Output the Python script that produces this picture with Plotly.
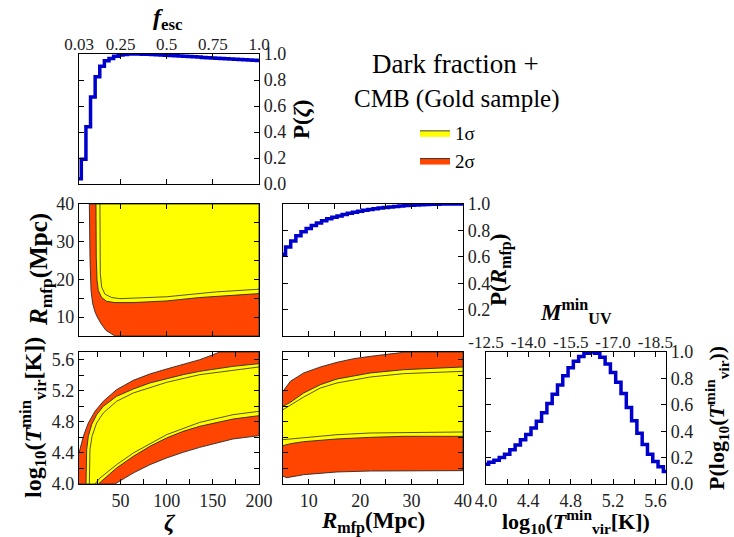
import plotly.graph_objects as go

# ---------------- 1D marginals ----------------
zeta_bins = [5, 10, 15, 20, 25, 30, 35, 40, 45, 50, 55, 60, 65, 70, 75, 80, 85, 90, 95, 100,
             105, 110, 115, 120, 125, 130, 135, 140, 145, 150, 155, 160, 165, 170, 175, 180,
             185, 190, 195, 200]
p_zeta = [0.04, 0.19, 0.44, 0.67, 0.825, 0.905, 0.948, 0.966, 0.982, 0.992, 0.997, 1.0, 1.0,
          1.0, 0.999, 0.998, 0.996, 0.994, 0.992, 0.99, 0.988, 0.986, 0.984, 0.982, 0.98,
          0.978, 0.976, 0.974, 0.972, 0.97, 0.968, 0.966, 0.964, 0.962, 0.96, 0.958, 0.956,
          0.954, 0.952, 0.95]

r_bins = [5, 6, 7, 8, 9, 10, 11, 12, 13, 14, 15, 16, 17, 18, 19, 20, 21, 22, 23, 24, 25, 26,
          27, 28, 29, 30, 31, 32, 33, 34, 35, 36, 37, 38, 39, 40]
p_r = [0.62, 0.675, 0.72, 0.76, 0.79, 0.815, 0.838, 0.857, 0.873, 0.888, 0.90, 0.91, 0.92,
       0.93, 0.938, 0.946, 0.952, 0.958, 0.964, 0.969, 0.974, 0.978, 0.982, 0.985, 0.988,
       0.991, 0.993, 0.995, 0.997, 0.998, 0.999, 1.0, 1.0, 1.0, 1.0, 1.0]

t_bins = [4.00, 4.05, 4.10, 4.15, 4.20, 4.25, 4.30, 4.35, 4.40, 4.45, 4.50, 4.55, 4.60, 4.65,
          4.70, 4.75, 4.80, 4.85, 4.90, 4.95, 5.00, 5.05, 5.10, 5.15, 5.20, 5.25, 5.30, 5.35,
          5.40, 5.45, 5.50, 5.55, 5.60, 5.65, 5.70]
p_t = [0.15, 0.165, 0.18, 0.20, 0.225, 0.26, 0.295, 0.335, 0.375, 0.425, 0.475, 0.54, 0.61,
       0.68, 0.75, 0.82, 0.88, 0.93, 0.965, 0.99, 1.0, 0.99, 0.96, 0.91, 0.845, 0.77, 0.685,
       0.58, 0.48, 0.385, 0.30, 0.225, 0.17, 0.13, 0.095]

# ---------------- 2D credible regions (boundaries) ----------------
# zeta - R_mfp
zr2_hi_x = [16.2, 200]
zr2_hi_y = [40, 40]
zr2_lo_x = [16.2, 16.9, 18.0, 19.8, 22.3, 24.8, 28.8, 34.2, 43.9, 200]
zr2_lo_y = [40, 26.0, 17.1, 13.6, 11.4, 10.05, 8.3, 6.5, 5.0, 5.0]
zr1_hi_x = [23.4, 200]
zr1_hi_y = [40, 40]
zr1_lo_x = [23.4, 23.7, 24.5, 25.9, 29.5, 34.9, 43.9, 63.8, 99.8, 135.8, 171.9, 200]
zr1_lo_y = [40, 26.0, 19.8, 17.1, 15.2, 14.2, 13.86, 13.86, 14.3, 15.2, 15.8, 16.25]
zr1_in_x = [27.7, 28.1, 29.5, 33.1, 40.3, 49.3, 99.8, 153.9, 200]
zr1_in_y = [40, 21.6, 18.0, 16.1, 15.2, 14.9, 15.4, 16.7, 17.4]

# zeta - log10(Tvir)
zt2_hi_x = [5, 5.4, 9.7, 15.1, 22.3, 31.3, 45.7, 63.8, 81.8, 99.8, 117.8, 135.8, 150.3, 157.5, 200]
zt2_hi_y = [4.40, 4.421, 4.614, 4.786, 4.936, 5.065, 5.215, 5.335, 5.417, 5.481, 5.545, 5.601,
            5.666, 5.70, 5.70]
zt2_lo_x = [5, 43.9, 63.8, 81.8, 99.8, 117.8, 135.8, 153.9, 171.9, 200]
zt2_lo_y = [4.0, 4.0, 4.142, 4.249, 4.335, 4.408, 4.472, 4.528, 4.580, 4.622]
zt1_hi_x = [12.6, 12.6, 13.3, 15.1, 18.7, 24.1, 31.3, 45.7, 63.8, 81.8, 99.8, 117.8, 135.8,
            153.9, 171.9, 200]
zt1_hi_y = [4.0, 4.142, 4.442, 4.614, 4.764, 4.893, 5.0, 5.129, 5.223, 5.301, 5.357, 5.408,
            5.451, 5.485, 5.515, 5.550]
zt1_lo_x = [12.6, 25.9, 34.9, 45.7, 63.8, 81.8, 99.8, 117.8, 135.8, 153.9, 171.9, 200]
zt1_lo_y = [4.0, 4.0, 4.099, 4.206, 4.356, 4.485, 4.592, 4.678, 4.743, 4.794, 4.837, 4.880]
zt1_inhi_x = [16.2, 16.9, 19.1, 24.1, 31.3, 45.7, 63.8, 99.8, 135.8, 171.9, 200]
zt1_inhi_y = [4.0, 4.442, 4.614, 4.786, 4.914, 5.065, 5.172, 5.309, 5.408, 5.464, 5.507]
zt1_inlo_x = [22.3, 27.7, 45.7, 63.8, 99.8, 135.8, 171.9, 200]
zt1_inlo_y = [4.0, 4.077, 4.249, 4.399, 4.635, 4.794, 4.893, 4.936]

# R_mfp - log10(Tvir)
rt2_hi_x = [5, 6.43, 9.02, 12.26, 15.5, 18.74, 21.98, 25.2, 28.46, 30.4, 40]
rt2_hi_y = [5.193, 5.322, 5.430, 5.507, 5.567, 5.614, 5.644, 5.674, 5.696, 5.70, 5.70]
rt2_lo_x = [5, 5.78, 9.02, 12.26, 15.5, 21.98, 28.46, 40]
rt2_lo_y = [4.099, 4.082, 4.120, 4.142, 4.155, 4.167, 4.172, 4.172]
rt1_hi_x = [5, 6.43, 9.02, 12.26, 15.5, 18.74, 21.98, 28.46, 34.9, 40]
rt1_hi_y = [5.0, 5.052, 5.172, 5.279, 5.352, 5.395, 5.430, 5.472, 5.494, 5.507]
rt1_lo_x = [5, 6.43, 9.02, 15.5, 21.98, 28.46, 40]
rt1_lo_y = [4.494, 4.519, 4.545, 4.580, 4.601, 4.614, 4.614]
rt1_inhi_x = [5, 9.02, 12.26, 15.5, 21.98, 28.46, 40]
rt1_inhi_y = [4.957, 5.120, 5.236, 5.301, 5.378, 5.421, 5.451]
rt1_inlo_x = [5, 6.43, 9.02, 15.5, 21.98, 28.46, 40]
rt1_inlo_y = [4.571, 4.580, 4.601, 4.635, 4.657, 4.665, 4.670]

# tick labels
fesc_vals = [5, 50, 100, 150, 200]
fesc_text = ['0.03', '0.25', '0.5', '0.75', '1.0']
muv_vals = [4.0, 4.4, 4.8, 5.2, 5.6]
muv_text = ['-12.5', '-14.0', '-15.5', '-17.0', '-18.5']

# ---------------- styling ----------------
FONT = 'Liberation Serif'
YELLOW = '#FFFF00'
RED = '#FF4500'
BLUE = '#0000CD'
EDGE = '#2a2a2a'

fig = go.Figure()


def region(xh, yh, xl, yl, color, xa, ya, name=None, show=False, rank=None):
    xs = list(xh) + list(reversed(xl))
    ys = list(yh) + list(reversed(yl))
    fig.add_trace(go.Scatter(x=xs, y=ys, mode='lines', fill='toself', fillcolor=color,
                             line=dict(color=EDGE, width=0.9), xaxis=xa, yaxis=ya,
                             name=name, showlegend=show, legendrank=rank, hoverinfo='skip'))


def cline(x, y, xa, ya):
    fig.add_trace(go.Scatter(x=x, y=y, mode='lines', line=dict(color=EDGE, width=0.8),
                             xaxis=xa, yaxis=ya, showlegend=False, hoverinfo='skip'))


# zeta - R
region(zr2_hi_x, zr2_hi_y, zr2_lo_x, zr2_lo_y, RED, 'x2', 'y2', '2σ', True, 2)
region(zr1_hi_x, zr1_hi_y, zr1_lo_x, zr1_lo_y, YELLOW, 'x2', 'y2', '1σ', True, 1)
cline(zr1_in_x, zr1_in_y, 'x2', 'y2')
# zeta - T
region(zt2_hi_x, zt2_hi_y, zt2_lo_x, zt2_lo_y, RED, 'x4', 'y4')
region(zt1_hi_x, zt1_hi_y, zt1_lo_x, zt1_lo_y, YELLOW, 'x4', 'y4')
cline(zt1_inhi_x, zt1_inhi_y, 'x4', 'y4')
cline(zt1_inlo_x, zt1_inlo_y, 'x4', 'y4')
# R - T
region(rt2_hi_x, rt2_hi_y, rt2_lo_x, rt2_lo_y, RED, 'x5', 'y5')
region(rt1_hi_x, rt1_hi_y, rt1_lo_x, rt1_lo_y, YELLOW, 'x5', 'y5')
cline(rt1_inhi_x, rt1_inhi_y, 'x5', 'y5')
cline(rt1_inlo_x, rt1_inlo_y, 'x5', 'y5')

# marginals
for xs, ys, xa, ya in [(zeta_bins, p_zeta, 'x', 'y'), (r_bins, p_r, 'x3', 'y3'),
                       (t_bins, p_t, 'x6', 'y6')]:
    fig.add_trace(go.Scatter(x=xs, y=ys, mode='lines', line=dict(color=BLUE, width=3.5, shape='hvh'),
                             xaxis=xa, yaxis=ya, showlegend=False, hoverinfo='skip'))
# invisible helpers so the top (overlay) axes are drawn
fig.add_trace(go.Scatter(x=zeta_bins, y=p_zeta, mode='lines', line=dict(width=0), xaxis='x7',
                         yaxis='y', showlegend=False, hoverinfo='skip'))
fig.add_trace(go.Scatter(x=t_bins, y=p_t, mode='lines', line=dict(width=0), xaxis='x8',
                         yaxis='y6', showlegend=False, hoverinfo='skip'))

W, H = 734, 537
cx = {1: [79 / W, 259 / W], 2: [283 / W, 463 / W], 3: [486 / W, 666 / W]}
ry = {1: [1 - 184 / H, 1 - 54 / H], 2: [1 - 336 / H, 1 - 204 / H], 3: [1 - 484 / H, 1 - 352 / H]}

tickfont = dict(family=FONT, size=18, color='#222')
topfont = dict(family=FONT, size=17, color='#222')


def ax(domain, anchor, rng, tickvals, ticktext=None, labels=True, side=None):
    d = dict(domain=domain, anchor=anchor, range=rng, showline=True, linecolor='black',
             linewidth=1.3, mirror='ticks', ticks='inside', ticklen=5, tickwidth=1,
             tickcolor='black', showgrid=False, zeroline=False, tickfont=tickfont,
             tickmode='array', tickvals=tickvals, showticklabels=labels, automargin=False)
    if ticktext is not None:
        d['ticktext'] = ticktext
    if side:
        d['side'] = side
    return d


zeta50 = [50, 100, 150]
zeta25 = [25, 50, 75, 100, 125, 150, 175, 200]
zeta25_txt = ['', '50', '', '100', '', '150', '', '200']
r5 = [5, 10, 15, 20, 25, 30, 35, 40]
r5_txt = ['', '10', '', '20', '', '30', '', '40']
t02 = [4.0, 4.2, 4.4, 4.6, 4.8, 5.0, 5.2, 5.4, 5.6]
t02_txt = ['4.0', '', '4.4', '', '4.8', '', '5.2', '', '5.6']
p02 = [0.0, 0.2, 0.4, 0.6, 0.8, 1.0]
p02_txt = ['0.0', '0.2', '0.4', '0.6', '0.8', '1.0']
p02_txt_no0 = ['', '0.2', '0.4', '0.6', '0.8', '1.0']

layout = dict(
    width=W, height=H, margin=dict(l=0, r=0, t=0, b=0, autoexpand=False), paper_bgcolor='white',
    plot_bgcolor='white', font=dict(family=FONT, color='black'),
    xaxis=ax(cx[1], 'y', [5, 200], zeta50, labels=False),
    yaxis=ax(ry[1], 'x', [0, 1], p02, p02_txt, side='right'),
    xaxis2=ax(cx[1], 'y2', [5, 200], zeta50, labels=False),
    yaxis2=ax(ry[2], 'x2', [5, 40], r5, r5_txt),
    xaxis3=ax(cx[2], 'y3', [5, 40], r5, labels=False),
    yaxis3=ax(ry[2], 'x3', [0, 1], p02, p02_txt_no0, side='right'),
    xaxis4=ax(cx[1], 'y4', [5, 200], zeta25, zeta25_txt),
    yaxis4=ax(ry[3], 'x4', [4.0, 5.7], t02, t02_txt),
    xaxis5=ax(cx[2], 'y5', [5, 40], r5, r5_txt),
    yaxis5=ax(ry[3], 'x5', [4.0, 5.7], t02, labels=False),
    xaxis6=ax(cx[3], 'y6', [4.0, 5.7], t02, t02_txt),
    yaxis6=ax(ry[3], 'x6', [0, 1], p02, p02_txt, side='right'),
    xaxis7=dict(overlaying='x', side='top', anchor='y', range=[5, 200], tickmode='array',
                tickvals=fesc_vals, ticktext=fesc_text, ticks='', showline=False,
                showgrid=False, zeroline=False, tickfont=topfont, automargin=False),
    xaxis8=dict(overlaying='x6', side='top', anchor='y6', range=[4.0, 5.7], tickmode='array',
                tickvals=muv_vals, ticktext=muv_text, ticks='', showline=False,
                showgrid=False, zeroline=False, tickfont=topfont, automargin=False),
    showlegend=True,
    legend=dict(x=415 / W, y=1 - 114 / H, xanchor='left', yanchor='top',
                bgcolor='rgba(0,0,0,0)', font=dict(family=FONT, size=19),
                tracegroupgap=0, itemwidth=30),
)
fig.update_layout(**layout)


def note(text, x, y, size, angle=0):
    fig.add_annotation(text=text, x=x / W, y=1 - y / H, xref='paper', yref='paper',
                       showarrow=False, textangle=angle, xanchor='center', yanchor='middle',
                       font=dict(family=FONT, size=size, color='black'))


note('<b><i>f</i><sub>esc</sub></b>', 168, 19, 24)
note('<b>P(<i>ζ</i>)</b>', 302, 119, 23, -90)
note('<b><i>R</i><sub>mfp</sub>(Mpc)</b>', 40, 270, 25, -90)
note('<b>P(<i>R</i><sub>mfp</sub>)</b>', 500, 270, 23, -90)
note('<b><i>M</i><sup>min</sup><sub>UV</sub></b>', 576, 311, 23)
note('<b>P(log<sub>10</sub>(<i>T</i><sup>min</sup><sub>vir</sub>))</b>', 716, 418, 22, -90)
note('<b>log<sub>10</sub>(<i>T</i><sup>min</sup><sub>vir</sub>[K])</b>', 33, 418, 24, -90)
note('<b><i>ζ</i></b>', 170, 522, 24)
note('<b><i>R</i><sub>mfp</sub>(Mpc)</b>', 373, 522, 23)
note('<b>log<sub>10</sub>(<i>T</i><sup>min</sup><sub>vir</sub>[K])</b>', 576, 521, 22)
note('Dark fraction +', 455, 64, 27)
note('CMB (Gold sample)', 457, 99, 25)

fig.write_html('out.html')
